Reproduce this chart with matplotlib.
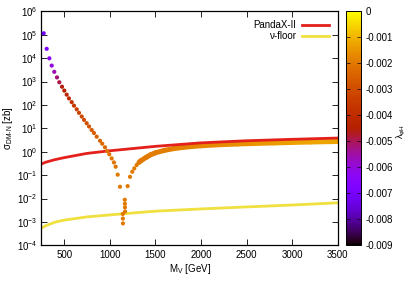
import numpy as np
import matplotlib
matplotlib.use("Agg")
import matplotlib.pyplot as plt
from matplotlib.collections import LineCollection
from matplotlib.colors import Normalize
from matplotlib.ticker import FixedLocator, FormatStrFormatter, LogFormatterSciNotation

plt.rcParams['font.family'] = ['Liberation Sans', 'DejaVu Sans']
plt.rcParams['mathtext.fontset'] = 'custom'
plt.rcParams['mathtext.rm'] = 'Liberation Sans'
plt.rcParams['mathtext.it'] = 'Liberation Sans:italic'
plt.rcParams['font.size'] = 7

# scan points: left branch (falling), dip and right branch
m_left = [276, 309, 338, 364, 392, 422, 447, 477, 502, 528, 553, 583, 608, 638, 663,
          693, 718, 747, 773, 802, 827, 857, 893, 918, 948, 973, 995, 1021, 1046,
          1065, 1087, 1112, 1143, 1144, 1145]
s_left = [1.15e5, 2.5e4, 9.8e3, 4.8e3, 2.6e3, 1.5e3, 930, 600, 410, 275, 190, 132, 93,
          65, 46, 32, 23, 16.6, 12, 8.5, 6.3, 4.4, 2.95, 2.2, 1.55, 1.07, 0.78, 0.52,
          0.35, 0.23, 0.105, 0.032, 2.2e-3, 1.4e-3, 8.7e-4]
l_left = [-0.0072, -0.0068, -0.0064, -0.0060, -0.0056, -0.0052, -0.0049, -0.0046,
          -0.0044, -0.0042, -0.0040, -0.0038, -0.0036, -0.0034, -0.0032, -0.0031,
          -0.0030, -0.0029, -0.0028, -0.0027, -0.0026, -0.0025, -0.0024, -0.0023,
          -0.0023, -0.0022, -0.0022, -0.0021, -0.0021, -0.0021, -0.0020, -0.0020,
          -0.0020, -0.0020, -0.0020]

m_right = [1165, 1166, 1167, 1168, 1196, 1222, 1247, 1269, 1295, 1320]
s_right = [8.9e-3, 6.0e-3, 4.2e-3, 2.8e-3, 0.034, 0.085, 0.14, 0.195, 0.27, 0.35]
l_right = [-0.0020, -0.0020, -0.0020, -0.0020, -0.0020, -0.0020, -0.0020, -0.0020,
           -0.0020, -0.0020]

# dense part of the scan at high mass (seen as a band)
m_band = [1320, 1340, 1400, 1450, 1500, 1600, 1700, 1800, 1900, 2000, 2200, 2400,
          2600, 2800, 3000, 3200, 3500]
s_band = [0.35, 0.41, 0.58, 0.75, 0.90, 1.15, 1.36, 1.53, 1.68, 1.80, 2.0, 2.15,
          2.27, 2.38, 2.50, 2.61, 2.75]
l_band = [-0.0020, -0.0020, -0.0020, -0.0020, -0.0019, -0.0019, -0.0019, -0.0018,
          -0.0018, -0.0017, -0.0017, -0.0016, -0.0015, -0.0014, -0.0013, -0.0013,
          -0.0012]

# experimental limits
m_lim = [250, 300, 400, 500, 750, 1000, 1500, 2000, 2500, 3000, 3500]
panda = [0.30, 0.36, 0.46, 0.56, 0.85, 1.1, 1.7, 2.4, 2.95, 3.4, 3.85]
nufloor = [5.4e-4, 7.0e-4, 9.8e-4, 1.2e-3, 1.65e-3, 2.0e-3, 2.9e-3, 3.6e-3, 4.4e-3,
           5.3e-3, 6.6e-3]

cmap = plt.get_cmap('gnuplot')
norm = Normalize(vmin=-0.009, vmax=0)

fig = plt.figure(figsize=(4.09, 2.86), dpi=100)
ax = fig.add_axes([0.101, 0.142, 0.725, 0.8185])
cax = fig.add_axes([0.846, 0.142, 0.037, 0.8185])

ax.plot(m_lim, panda, color='#e3201b', lw=2.0, label='PandaX-II', zorder=2)
ax.plot(m_lim, nufloor, color='#f0e040', lw=2.0, label='ν-floor', zorder=2)

# band drawn as a coloured thick line
mb = np.array(m_band, dtype=float)
sb = np.array(s_band, dtype=float)
pts = np.column_stack([mb, sb]).reshape(-1, 1, 2)
segs = np.concatenate([pts[:-1], pts[1:]], axis=1)
lam_seg = 0.5 * (np.array(l_band[:-1]) + np.array(l_band[1:]))
lc = LineCollection(segs, cmap=cmap, norm=norm, linewidths=3.6, capstyle='round',
                    zorder=1.8)
lc.set_array(lam_seg)
ax.add_collection(lc)

sc = ax.scatter(m_left + m_right, s_left + s_right, c=l_left + l_right, cmap=cmap,
                norm=norm, s=9, linewidths=0, zorder=3)

ax.set_yscale('log')
ax.set_xlim(250, 3500)
ax.set_ylim(1e-4, 1e6)
ax.xaxis.set_major_locator(FixedLocator([500, 1000, 1500, 2000, 2500, 3000, 3500]))
ax.yaxis.set_major_locator(FixedLocator([10.0 ** k for k in range(-4, 7)]))
ax.yaxis.set_major_formatter(LogFormatterSciNotation())
ax.minorticks_off()
ax.tick_params(direction='in', top=True, right=True, length=4, width=0.6,
               labelsize=7, pad=3)
for sp in ax.spines.values():
    sp.set_linewidth(0.9)

ax.set_xlabel('M$_{\\mathrm{V}}$ [GeV]', fontsize=7, labelpad=2)
ax.set_ylabel('σ$_{\\mathrm{DM‐N}}$ [zb]', fontsize=7, labelpad=1)

leg = ax.legend(loc='upper right', frameon=False, markerfirst=False, fontsize=7,
                handlelength=2.8, handletextpad=0.6, borderaxespad=0.5,
                labelspacing=0.1)
for t in leg.get_texts():
    t.set_ha('right')

cb = fig.colorbar(plt.cm.ScalarMappable(norm=norm, cmap=cmap), cax=cax)
cb.set_ticks([-0.009, -0.008, -0.007, -0.006, -0.005, -0.004, -0.003, -0.002,
              -0.001, 0])
cb.ax.yaxis.set_major_formatter(FormatStrFormatter('%g'))
cb.ax.tick_params(direction='in', left=True, right=True, length=3, width=0.5,
                  labelsize=7, pad=3)
cb.outline.set_linewidth(0.7)
cb.ax.minorticks_off()
fig.text(0.982, 0.54, 'λ$_{\\mathrm{φH}}$', rotation=90, fontsize=6.5,
         ha='center', va='center')

fig.savefig('out.png', dpi=100)
